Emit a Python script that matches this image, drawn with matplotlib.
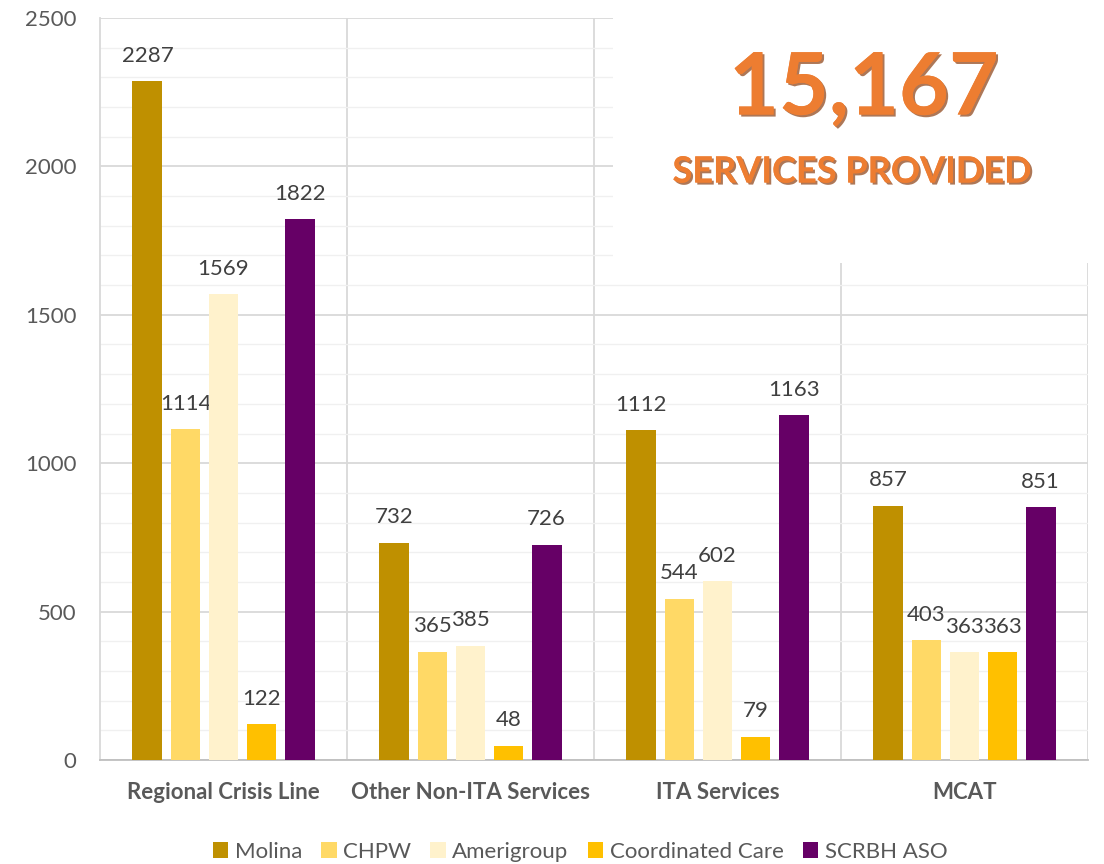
import numpy as np
import matplotlib
matplotlib.use("Agg")
import matplotlib.pyplot as plt
import matplotlib.patheffects as pe
from matplotlib.patches import Rectangle

plt.rcParams['font.family'] = ['Lato', 'DejaVu Sans']

# data
categories = ["Regional Crisis Line", "Other Non-ITA Services", "ITA Services", "MCAT"]
series = ["Molina", "CHPW", "Amerigroup", "Coordinated Care", "SCRBH ASO"]
molina = [2287, 732, 1112, 857]
chpw = [1114, 365, 544, 403]
amerigroup = [1569, 385, 602, 363]
coordinated = [122, 48, 79, 363]
scrbh = [1822, 726, 1163, 851]
values = [molina, chpw, amerigroup, coordinated, scrbh]
colors = ["#BF9000", "#FFD966", "#FFF2CC", "#FFC000", "#660066"]
total_label = "15,167"
total_sub = "SERVICES PROVIDED"

fig = plt.figure(figsize=(11.04, 8.64), dpi=100)
ax = fig.add_axes([100/1104, 1 - 760/864, 988/1104, 742/864])

x = np.arange(len(categories))
width = 0.121
step = 0.154
for i, (name, vals, col) in enumerate(zip(series, values, colors)):
    bars = ax.bar(x + (i - 2) * step, vals, width, color=col, label=name, zorder=3)
    ax.bar_label(bars, padding=11, fontsize=16, color="#404040")

ax.set_xlim(-0.5, 3.5)
ax.set_ylim(0, 2500)
ax.set_yticks(range(0, 2501, 500))
ax.set_yticks(range(0, 2501, 100), minor=True)
ax.grid(axis="y", which="major", color="#D9D9D9", lw=1.3, zorder=0)
ax.grid(axis="y", which="minor", color="#F0F0F0", lw=1.0, zorder=0)
for sep in [0.5, 1.5, 2.5, 3.5]:
    ax.axvline(sep, color="#D9D9D9", lw=1.3, zorder=1)
ax.tick_params(axis="both", which="both", length=0)
ax.tick_params(axis="y", labelsize=16, labelcolor="#595959", pad=17)
ax.set_xticks(x)
ax.set_xticklabels(categories, fontsize=16, fontweight="bold", color="#595959")
ax.tick_params(axis="x", pad=16)
for s in ["top", "right"]:
    ax.spines[s].set_visible(False)
ax.spines["left"].set_color("#D9D9D9")
ax.spines["bottom"].set_color("#BFBFBF")
ax.spines["left"].set_linewidth(1.3)
ax.spines["bottom"].set_linewidth(1.3)

# white text box covering the top right corner
ax.add_patch(Rectangle((0.519, 0.67), 0.5, 0.4, transform=ax.transAxes,
                       facecolor="white", edgecolor="none", zorder=2, clip_on=False))
shadow = [pe.withSimplePatchShadow(offset=(1.5, -1.5), shadow_rgbFace="#8B3E10", alpha=0.7), pe.Normal()]
fig.text(864/1104, 1 - 90/864, total_label, ha="center", va="center", fontsize=62,
         fontweight="bold", color="#ED7D31", path_effects=shadow)
fig.text(852/1104, 1 - 172/864, total_sub, ha="center", va="center", fontsize=26,
         fontweight="bold", color="#ED7D31", path_effects=shadow)

fig.legend(loc="center", bbox_to_anchor=(580/1104, 1 - 852/864), ncol=5, frameon=False,
           fontsize=16, labelcolor="#595959", handlelength=0.7, handleheight=0.7,
           handletextpad=0.3, columnspacing=0.85)

fig.savefig("out.png", dpi=100)
